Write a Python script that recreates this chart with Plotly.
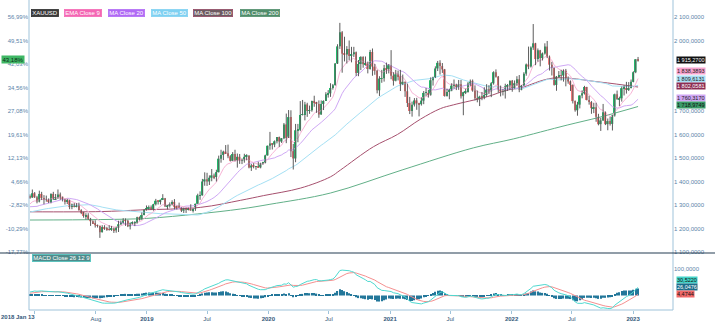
import numpy as np
import pandas as pd
import plotly.graph_objects as go

# ---------------- data (weekly XAUUSD) ----------------
# warm-up closes (2017-01-06 .. 2018-01-12) used only for the indicators
hist_close_2017 = [1173, 1196, 1205, 1191, 1220, 1234, 1238, 1257, 1226, 1201, 1229, 1244, 1249,
                   1254, 1285, 1284, 1268, 1228, 1228, 1254, 1266, 1279, 1266, 1254, 1256, 1242,
                   1212, 1228, 1255, 1269, 1258, 1289, 1285, 1291, 1325, 1346, 1320, 1297, 1280,
                   1275, 1304, 1280, 1272, 1269, 1274, 1294, 1288, 1280, 1248, 1256, 1275, 1303,
                   1320, 1338]

# (open, high, low, close) per week, weeks starting 2018-01-15
ohlc_2018 = [
    (1338, 1345, 1326, 1332), (1332, 1366, 1330, 1350), (1350, 1355, 1330, 1333),
    (1333, 1339, 1307, 1315), (1315, 1361, 1311, 1347), (1347, 1356, 1321, 1330), (1330, 1342, 1303, 1323),
    (1323, 1340, 1314, 1323), (1323, 1328, 1308, 1313), (1313, 1350, 1307, 1347), (1347, 1356, 1321, 1325),
    (1325, 1347, 1321, 1333), (1333, 1366, 1326, 1345), (1345, 1353, 1322, 1335), (1335, 1336, 1315, 1323),
    (1323, 1326, 1302, 1315), (1315, 1326, 1304, 1320), (1320, 1323, 1282, 1291), (1291, 1306, 1282, 1302),
    (1302, 1308, 1290, 1294), (1294, 1308, 1290, 1299), (1299, 1310, 1276, 1278), (1278, 1282, 1261, 1270),
    (1270, 1271, 1246, 1253), (1253, 1265, 1238, 1256), (1256, 1265, 1236, 1241), (1241, 1245, 1211, 1231),
    (1231, 1235, 1219, 1223), (1223, 1235, 1204, 1214), (1214, 1217, 1204, 1212), (1212, 1212, 1160, 1184),
    (1184, 1214, 1183, 1206), (1206, 1214, 1194, 1199), (1199, 1207, 1190, 1197), (1197, 1214, 1191, 1194),
    (1194, 1211, 1190, 1200), (1200, 1204, 1181, 1192), (1192, 1208, 1182, 1203), (1203, 1233, 1185, 1218),
    (1218, 1234, 1215, 1227), (1227, 1244, 1221, 1234), (1234, 1243, 1211, 1233), (1233, 1237, 1206, 1209),
    (1209, 1226, 1196, 1222), (1222, 1230, 1217, 1222), (1222, 1231, 1210, 1222), (1222, 1250, 1222, 1248),
    (1248, 1251, 1234, 1238), (1238, 1268, 1238, 1257), (1257, 1283, 1256, 1279), (1279, 1298, 1276, 1287),
]
ohlc_2019 = [
    (1287, 1298, 1280, 1290), (1290, 1298, 1280, 1282), (1282, 1305, 1276, 1303), (1303, 1326, 1298, 1318),
    (1318, 1319, 1302, 1315), (1315, 1323, 1302, 1322), (1322, 1346, 1321, 1329), (1329, 1330, 1292, 1294),
    (1294, 1300, 1281, 1299), (1299, 1311, 1289, 1303), (1303, 1320, 1298, 1313), (1313, 1325, 1281, 1292),
    (1292, 1297, 1281, 1291), (1291, 1310, 1289, 1290), (1290, 1290, 1270, 1276), (1276, 1289, 1266, 1286),
    (1286, 1289, 1266, 1280), (1280, 1289, 1277, 1286), (1286, 1303, 1275, 1277), (1277, 1287, 1268, 1284),
    (1284, 1306, 1275, 1305), (1305, 1348, 1305, 1341), (1341, 1358, 1322, 1341), (1341, 1411, 1340, 1400),
    (1400, 1439, 1382, 1409), (1409, 1437, 1381, 1400), (1400, 1426, 1385, 1416), (1416, 1453, 1401, 1426),
    (1426, 1434, 1410, 1419), (1419, 1450, 1400, 1440), (1440, 1510, 1438, 1497), (1497, 1535, 1480, 1513),
    (1513, 1531, 1491, 1527), (1527, 1555, 1517, 1520), (1520, 1557, 1499, 1507), (1507, 1512, 1485, 1488),
    (1488, 1525, 1487, 1517), (1517, 1535, 1486, 1489), (1489, 1519, 1459, 1505), (1505, 1517, 1475, 1489),
    (1489, 1498, 1474, 1490), (1490, 1518, 1480, 1505), (1505, 1516, 1490, 1509), (1509, 1512, 1456, 1459),
    (1459, 1475, 1445, 1468), (1468, 1478, 1456, 1462), (1462, 1466, 1450, 1463), (1463, 1484, 1459, 1460),
    (1460, 1480, 1456, 1476), (1476, 1484, 1471, 1479), (1479, 1514, 1477, 1511), (1511, 1553, 1510, 1552),
]
ohlc_2020 = [
    (1552, 1611, 1535, 1562), (1562, 1563, 1536, 1557), (1557, 1575, 1546, 1571), (1571, 1589, 1562, 1589),
    (1589, 1591, 1547, 1570), (1570, 1585, 1564, 1584), (1584, 1649, 1580, 1643), (1643, 1689, 1563, 1585),
    (1585, 1704, 1585, 1674), (1674, 1703, 1504, 1529), (1529, 1560, 1451, 1498), (1498, 1645, 1482, 1618),
    (1618, 1645, 1567, 1620), (1620, 1742, 1614, 1683), (1683, 1747, 1681, 1683), (1683, 1739, 1660, 1728),
    (1728, 1735, 1675, 1700), (1700, 1723, 1688, 1703), (1703, 1744, 1697, 1743), (1743, 1765, 1718, 1735),
    (1735, 1739, 1692, 1730), (1730, 1745, 1671, 1685), (1685, 1745, 1684, 1730), (1730, 1745, 1704, 1743),
    (1743, 1780, 1743, 1771), (1771, 1789, 1757, 1775), (1775, 1818, 1760, 1798), (1798, 1815, 1791, 1810),
    (1810, 1904, 1808, 1902), (1902, 1984, 1900, 1975), (1975, 2075, 1964, 2035), (2035, 2040, 1863, 1944),
    (1944, 2016, 1911, 1940), (1940, 1976, 1902, 1964), (1964, 2000, 1916, 1934), (1934, 1973, 1907, 1941),
    (1941, 1973, 1930, 1950), (1950, 1953, 1849, 1862), (1862, 1917, 1848, 1900), (1900, 1933, 1874, 1930),
    (1930, 1933, 1884, 1899), (1899, 1932, 1893, 1902), (1902, 1910, 1860, 1879), (1879, 1960, 1876, 1951),
    (1951, 1966, 1850, 1889), (1889, 1900, 1854, 1871), (1871, 1875, 1775, 1788), (1788, 1848, 1764, 1838),
    (1838, 1875, 1820, 1839), (1839, 1896, 1825, 1882), (1882, 1906, 1858, 1878), (1878, 1900, 1860, 1895),
]
ohlc_2021 = [
    (1895, 1959, 1835, 1850), (1850, 1865, 1808, 1829), (1829, 1875, 1826, 1856), (1856, 1872, 1830, 1848),
    (1848, 1875, 1785, 1814), (1814, 1855, 1810, 1824), (1824, 1825, 1760, 1784), (1784, 1816, 1717, 1734),
    (1734, 1760, 1687, 1700), (1700, 1740, 1676, 1727), (1727, 1755, 1719, 1745), (1745, 1756, 1705, 1732),
    (1732, 1735, 1677, 1729), (1729, 1758, 1723, 1744), (1744, 1785, 1729, 1777), (1777, 1798, 1764, 1777),
    (1777, 1790, 1757, 1769), (1769, 1843, 1765, 1831), (1831, 1846, 1808, 1844), (1844, 1890, 1840, 1881),
    (1881, 1913, 1870, 1905), (1905, 1916, 1855, 1891), (1891, 1904, 1862, 1877), (1877, 1879, 1761, 1764),
    (1764, 1795, 1761, 1781), (1781, 1795, 1750, 1787), (1787, 1818, 1784, 1808), (1808, 1834, 1795, 1812),
    (1812, 1816, 1789, 1802), (1802, 1832, 1790, 1814), (1814, 1832, 1753, 1763), (1763, 1782, 1682, 1780),
    (1780, 1795, 1772, 1781), (1781, 1823, 1778, 1817), (1817, 1834, 1806, 1828), (1828, 1834, 1782, 1787),
    (1787, 1809, 1745, 1754), (1754, 1787, 1737, 1750), (1750, 1765, 1721, 1761), (1761, 1781, 1746, 1757),
    (1757, 1801, 1750, 1768), (1768, 1814, 1760, 1793), (1793, 1810, 1772, 1783), (1783, 1823, 1759, 1818),
    (1818, 1869, 1812, 1865), (1865, 1877, 1842, 1846), (1846, 1849, 1778, 1792), (1792, 1808, 1762, 1783),
    (1783, 1793, 1766, 1783), (1783, 1816, 1753, 1805), (1805, 1815, 1785, 1809), (1809, 1830, 1789, 1829),
]
ohlc_2022 = [
    (1829, 1832, 1782, 1797), (1797, 1830, 1795, 1818), (1818, 1848, 1807, 1835), (1835, 1853, 1780, 1791),
    (1791, 1811, 1788, 1808), (1808, 1865, 1806, 1859), (1859, 1902, 1850, 1898), (1898, 1974, 1878, 1889),
    (1889, 1975, 1885, 1970), (1970, 2070, 1960, 1988), (1988, 1990, 1895, 1921), (1921, 1966, 1910, 1958),
    (1958, 1960, 1890, 1925), (1925, 1949, 1915, 1945), (1945, 1988, 1940, 1974), (1974, 1998, 1925, 1931),
    (1931, 1936, 1872, 1897), (1897, 1909, 1851, 1883), (1883, 1885, 1808, 1811), (1811, 1849, 1786, 1846),
    (1846, 1870, 1840, 1853), (1853, 1875, 1830, 1851), (1851, 1877, 1825, 1871), (1871, 1879, 1805, 1840),
    (1840, 1847, 1816, 1826), (1826, 1830, 1785, 1811), (1811, 1813, 1732, 1742), (1742, 1745, 1697, 1703),
    (1703, 1739, 1680, 1727), (1727, 1767, 1711, 1766), (1766, 1788, 1754, 1775), (1775, 1807, 1770, 1802),
    (1802, 1803, 1745, 1747), (1747, 1765, 1727, 1738), (1738, 1742, 1688, 1712), (1712, 1735, 1691, 1716),
    (1716, 1735, 1654, 1675), (1675, 1688, 1639, 1644), (1644, 1671, 1615, 1660), (1660, 1730, 1658, 1695),
    (1695, 1698, 1640, 1644), (1644, 1668, 1618, 1657), (1657, 1675, 1638, 1645), (1645, 1684, 1617, 1681),
    (1681, 1774, 1676, 1771), (1771, 1787, 1747, 1751), (1751, 1761, 1721, 1754), (1754, 1804, 1740, 1797),
    (1797, 1810, 1766, 1797), (1797, 1824, 1774, 1793), (1793, 1823, 1785, 1798), (1798, 1834, 1796, 1824),
]
ohlc_2023 = [
    (1824, 1869, 1822, 1865), (1865, 1921, 1861, 1920), (1920, 1930, 1910, 1915.27),
]

# slow moving averages (date, value)
ma100_dates = ["2018-01-15", "2018-08-16", "2018-12-14", "2019-06-12", "2019-10-10", "2019-12-18",
               "2020-04-07", "2020-07-06", "2020-08-05", "2020-11-12", "2021-01-23", "2021-04-02",
               "2021-06-01", "2021-07-10", "2021-10-20", "2021-12-19", "2022-01-27", "2022-05-06",
               "2022-09-24", "2023-01-16"]
ma100_vals = [1271, 1272, 1279, 1290, 1320, 1340, 1372, 1420, 1449, 1548, 1600, 1665,
              1710, 1726, 1761, 1789, 1798, 1840, 1823, 1802]
ma200_dates = ["2018-01-15", "2018-08-16", "2019-01-01", "2019-06-03", "2019-10-10", "2020-01-06",
               "2020-07-06", "2021-02-06", "2021-09-08", "2022-01-06", "2022-06-17", "2022-09-24",
               "2023-01-16"]
ma200_vals = [1236, 1238, 1243, 1262, 1283, 1303, 1351, 1449, 1543, 1581, 1640, 1674, 1719]

price_ticks = [1100, 1200, 1300, 1400, 1500, 1600, 1700, 1800, 1900, 2000, 2100]
# 1 800 and 1 900 sit under the value labels (hidden in the reference)
price_tick_text = ["1 100,0000", "1 200,0000", "1 300,0000", "1 400,0000", "1 500,0000", "1 600,0000",
                   "1 700,0000", "", "", "2 000,0000", "2 100,0000"]
pct_tick_text = ["-17,77%", "-10,29%", "-2,82%", "4,66%", "12,13%", "19,61%", "27,08%", "34,56%",
                 "42,03%", "49,51%", "56,99%"]
x_tick_vals = ["2018-08-01", "2019-01-01", "2019-07-01", "2020-01-01", "2020-07-01", "2021-01-01",
               "2021-07-01", "2022-01-01", "2022-07-01", "2023-01-01"]
x_tick_text = ["Aug", "2019", "Jul", "2020", "Jul", "2021", "Jul", "2022", "Jul", "2023"]

last_labels = [("1 915,2700", "#111111", "#ffffff"), ("1 838,3893", "#f7a3cf", "#222222"),
               ("1 809,6131", "#a9def4", "#222222"), ("1 802,0581", "#8c2d52", "#ffffff"),
               ("1 760,3170", "#cfa6f4", "#222222"), ("1 718,9749", "#3a9a68", "#111111")]
macd_labels = [("30,5220", "#43d3c8", "#111111"), ("26,0476", "#1b6c8a", "#ffffff"),
               ("4,4744", "#f26a6a", "#111111")]
pct_badge = "43,18%"

# ---------------- build ----------------
rows = ohlc_2018 + ohlc_2019 + ohlc_2020 + ohlc_2021 + ohlc_2022 + ohlc_2023
o = np.array([r[0] for r in rows], float)
h = np.array([r[1] for r in rows], float)
l = np.array([r[2] for r in rows], float)
c = np.array([r[3] for r in rows], float)
dates = pd.date_range("2018-01-15", periods=len(rows), freq="7D")

allc = pd.Series(list(hist_close_2017) + list(c))
nh = len(hist_close_2017)
ema9 = allc.ewm(span=9, adjust=False).mean().iloc[nh:].values
ma20 = allc.rolling(20, min_periods=1).mean().iloc[nh:].values
ma50 = allc.rolling(50, min_periods=1).mean().iloc[nh:].values
macd_full = allc.ewm(span=12, adjust=False).mean() - allc.ewm(span=26, adjust=False).mean()
sig_full = macd_full.ewm(span=9, adjust=False).mean()
macd = macd_full.iloc[nh:].values
sig = sig_full.iloc[nh:].values
hist = macd - sig

UP = "#22b86b"
DOWN = "#f07878"
WICK = "#5c5c5c"
AX = "#9fc3da"
TXT = "#5a84aa"
FONT = "Liberation Sans, Arial, sans-serif"

fig = go.Figure()

# moving averages
fig.add_trace(go.Scatter(x=ma200_dates, y=ma200_vals, mode="lines", line=dict(color="#62b088", width=1, shape="spline"),
                         xaxis="x", yaxis="y", hoverinfo="skip"))
fig.add_trace(go.Scatter(x=ma100_dates, y=ma100_vals, mode="lines", line=dict(color="#a6506e", width=1, shape="spline"),
                         xaxis="x", yaxis="y", hoverinfo="skip"))
fig.add_trace(go.Scatter(x=dates, y=ma50, mode="lines", line=dict(color="#a4e0f4", width=1),
                         xaxis="x", yaxis="y", hoverinfo="skip"))
fig.add_trace(go.Scatter(x=dates, y=ma20, mode="lines", line=dict(color="#cfa8f5", width=1),
                         xaxis="x", yaxis="y", hoverinfo="skip"))
fig.add_trace(go.Scatter(x=dates, y=ema9, mode="lines", line=dict(color="#f8b4d6", width=1),
                         xaxis="x", yaxis="y", hoverinfo="skip"))

# wicks
wx, wy = [], []
for d, lo, hi in zip(dates, l, h):
    wx += [d, d, None]
    wy += [lo, hi, None]
fig.add_trace(go.Scatter(x=wx, y=wy, mode="lines", line=dict(color=WICK, width=1),
                         xaxis="x", yaxis="y", hoverinfo="skip"))

# bodies
up = c >= o
dn = ~up
bw = 5 * 86400000
fig.add_trace(go.Bar(x=dates[up], y=np.maximum(c[up] - o[up], 1.5), base=o[up], width=bw,
                     marker=dict(color=UP, line=dict(width=0)), xaxis="x", yaxis="y"))
fig.add_trace(go.Bar(x=dates[dn], y=np.maximum(o[dn] - c[dn], 1.5), base=c[dn], width=bw,
                     marker=dict(color=DOWN, line=dict(width=0)), xaxis="x", yaxis="y"))

# MACD pane
fig.add_trace(go.Bar(x=dates, y=hist, width=3.5 * 86400000, marker=dict(color="#23779a", line=dict(width=0)),
                     xaxis="x2", yaxis="y2"))
fig.add_trace(go.Scatter(x=dates, y=sig, mode="lines", line=dict(color="#f59090", width=1),
                         xaxis="x2", yaxis="y2", hoverinfo="skip"))
fig.add_trace(go.Scatter(x=dates, y=macd, mode="lines", line=dict(color="#4fd9d0", width=1),
                         xaxis="x2", yaxis="y2", hoverinfo="skip"))

# ---------------- layout ----------------
W, H = 715, 329
L, R, T, B = 29, 42, 0, 19
PW, PH = W - L - R, H - T - B
SEP = 253


def px(xp):
    return (xp - L) / PW


def py(yp):
    return (PH - (yp - T)) / PH


xr = ["2018-01-12", "2023-05-01"]
split = py(SEP)
ytr = [1095.7, 2172.3]

fig.update_layout(
    width=W, height=H, margin=dict(l=L, r=R, t=T, b=B),
    paper_bgcolor="white", plot_bgcolor="white", showlegend=False, barmode="overlay",
    font=dict(family=FONT, size=6, color=TXT),
    xaxis=dict(domain=[0, 1], anchor="y", range=xr, showticklabels=False, showgrid=False,
               zeroline=False, showline=False, ticks=""),
    yaxis=dict(domain=[split, 1], anchor="x", side="right", range=ytr, tickvals=price_ticks,
               ticktext=price_tick_text, showgrid=False, zeroline=False, showline=False, ticks="",
               tickfont=dict(size=6, color=TXT)),
    yaxis3=dict(overlaying="y", anchor="x", side="left", range=ytr, tickvals=price_ticks,
                ticktext=pct_tick_text, showgrid=False, zeroline=False, showline=False, ticks="",
                tickfont=dict(size=6, color=TXT)),
    xaxis2=dict(domain=[0, 1], anchor="y2", range=xr, tickvals=["2018-01-30"] + x_tick_vals,
                ticktext=[""] + [("<b>%s</b>" % t) if t.isdigit() else t for t in x_tick_text],
                showgrid=False, zeroline=False, showline=False, ticks="outside", ticklen=3,
                tickcolor=AX, tickfont=dict(size=6, color="#34597a")),
    yaxis2=dict(domain=[0, split], anchor="x2", side="right", range=[-54.7, 160.4], tickvals=[100],
                ticktext=["100,0000"], showgrid=False, zeroline=False, showline=False, ticks="",
                tickfont=dict(size=6, color=TXT)),
)

# invisible point that activates the percentage axis
fig.add_trace(go.Scatter(x=[dates[0]], y=[c[0]], mode="markers", marker=dict(opacity=0),
                         xaxis="x", yaxis="y3", hoverinfo="skip"))

shapes = [
    dict(type="line", xref="paper", yref="paper", x0=0, x1=0, y0=0, y1=1, line=dict(color=AX, width=1)),
    dict(type="line", xref="paper", yref="paper", x0=1, x1=1, y0=0, y1=1, line=dict(color=AX, width=1)),
    dict(type="line", xref="paper", yref="paper", x0=0, x1=1, y0=0, y1=0, line=dict(color=AX, width=1)),
    dict(type="line", xref="paper", yref="paper", x0=px(0), x1=px(W), y0=split, y1=split,
         line=dict(color="#243d52", width=1.2)),
]
fig.update_layout(shapes=shapes)

ann = []
# legend chips
chips = [("XAUUSD", 31, "#3b3b3b", "#222222"), ("EMA Close 9", 64, "#f466b3", "#f466b3"),
         ("MA Close 20", 108, "#b06af5", "#b06af5"), ("MA Close 50", 151, "#7fd1f2", "#7fd1f2"),
         ("MA Close 100", 193, "#6c5a60", "#9a3c5e"), ("MA Close 200", 240, "#4f8c6a", "#4f8c6a")]
for text, xl, bg, bd in chips:
    ann.append(dict(x=px(xl), y=py(13), xref="paper", yref="paper", text=text, showarrow=False,
                    xanchor="left", yanchor="middle", bgcolor=bg, bordercolor=bd, borderwidth=0.6,
                    borderpad=0.6, font=dict(size=6, color="white", family=FONT)))
# MACD chip
ann.append(dict(x=px(32), y=py(257.7), xref="paper", yref="paper", text="MACD Close 26 12 9", showarrow=False,
                xanchor="left", yanchor="middle", bgcolor="#4f8b8b", bordercolor="#45d0c8", borderwidth=0.6,
                borderpad=0.6, font=dict(size=6, color="white", family=FONT)))
# last value labels
for (text, bg, fg), yc in zip(last_labels, [59.6, 71.4, 78.6, 86.4, 98.0, 105.0]):
    ann.append(dict(x=px(676), y=py(yc), xref="paper", yref="paper", text=text, showarrow=False,
                    xanchor="left", yanchor="middle", bgcolor=bg, borderpad=0,
                    font=dict(size=5.5, color=fg, family=FONT)))
for (text, bg, fg), yc in zip(macd_labels, [279.6, 287.2, 294.4]):
    ann.append(dict(x=px(676), y=py(yc), xref="paper", yref="paper", text=text, showarrow=False,
                    xanchor="left", yanchor="middle", bgcolor=bg, borderpad=0,
                    font=dict(size=5.5, color=fg, family=FONT)))
# percent badge
ann.append(dict(x=px(1), y=py(59.8), xref="paper", yref="paper", text=pct_badge, showarrow=False,
                xanchor="left", yanchor="middle", bgcolor="#3fb765", borderpad=0.5,
                font=dict(size=6, color="#0e2a17", family=FONT)))
# first x label
ann.append(dict(x=px(18), y=py(317), xref="paper", yref="paper", text="<b>2018 Jan 13</b>", showarrow=False,
                xanchor="center", yanchor="middle", font=dict(size=6, color="#34597a", family=FONT)))
fig.update_layout(annotations=ann)

fig.write_html("out.html")
